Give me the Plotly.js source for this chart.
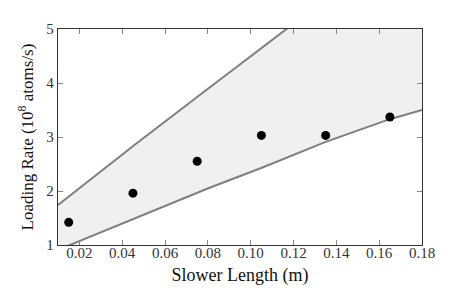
<!DOCTYPE html>
<html>
<head>
<meta charset="utf-8">
<script src="https://cdn.plot.ly/plotly-3.0.1.min.js"></script>
<style>html,body{margin:0;padding:0;background:#fff;}#chart{width:469px;height:288px;}</style>
</head>
<body>
<div id="chart"></div>
<script>
// Measured data points
const slowerLength = [0.015, 0.045, 0.075, 0.105, 0.135, 0.165];
const loadingRate = [1.42, 1.96, 2.55, 3.03, 3.03, 3.37];

// Upper bound curve
const upperX = [0.01, 0.046, 0.0756, 0.102, 0.13];
const upperY = [1.74, 2.86, 3.76, 4.55, 5.4];

// Lower bound curve
const lowerX = [0.01, 0.0156, 0.0452, 0.0802, 0.1052, 0.135, 0.165, 0.18];
const lowerY = [0.91, 1.0, 1.49, 2.05, 2.43, 2.91, 3.33, 3.5];

const xTicks = [0.02, 0.04, 0.06, 0.08, 0.10, 0.12, 0.14, 0.16, 0.18];
const xTickText = ['0.02', '0.04', '0.06', '0.08', '0.10', '0.12', '0.14', '0.16', '0.18'];
const yTicks = [1, 2, 3, 4, 5];

const FONT = "Liberation Serif";

// shaded band polygon
const bandX = upperX.concat([0.18]).concat(lowerX.slice().reverse());
const bandY = upperY.concat([6.9]).concat(lowerY.slice().reverse());

const traces = [
  {x: bandX, y: bandY, mode: 'lines', fill: 'toself', fillcolor: '#f0f0f0',
   line: {width: 0}, hoverinfo: 'skip', showlegend: false},
  {x: upperX, y: upperY, mode: 'lines', line: {color: '#7f7f7f', width: 2}, showlegend: false},
  {x: lowerX, y: lowerY, mode: 'lines', line: {color: '#7f7f7f', width: 2}, showlegend: false},
  {x: slowerLength, y: loadingRate, mode: 'markers',
   marker: {color: '#000', size: 9}, showlegend: false}
];

const layout = {
  width: 469, height: 288,
  margin: {l: 58, r: 47, t: 29, b: 43},
  paper_bgcolor: '#fff', plot_bgcolor: '#fff',
  font: {family: FONT, color: '#222', size: 15},
  xaxis: {
    range: [0.01, 0.18], tickvals: xTicks, ticktext: xTickText,
    ticks: 'inside', ticklen: 5, tickcolor: '#888', tickwidth: 1,
    ticklabelstandoff: -6,
    showgrid: false, zeroline: false,
    showline: true, linecolor: '#333', linewidth: 1.3, mirror: 'ticks',
    tickfont: {family: FONT, size: 15, color: '#333'},
    title: {text: 'Slower Length (m)', font: {family: FONT, size: 18, color: '#111'}, standoff: 8}
  },
  yaxis: {
    range: [1, 5], tickvals: yTicks,
    ticks: 'inside', ticklen: 5, tickcolor: '#888', tickwidth: 1,
    showgrid: false, zeroline: false,
    showline: true, linecolor: '#333', linewidth: 1.3, mirror: 'ticks',
    tickfont: {family: FONT, size: 15, color: '#333'},
    title: {text: 'Loading Rate (10<sup>8</sup> atoms/s)', font: {family: FONT, size: 17, color: '#111'}, standoff: 8}
  }
};

Plotly.newPlot('chart', traces, layout, {displayModeBar: false, staticPlot: true});
</script>
</body>
</html>
